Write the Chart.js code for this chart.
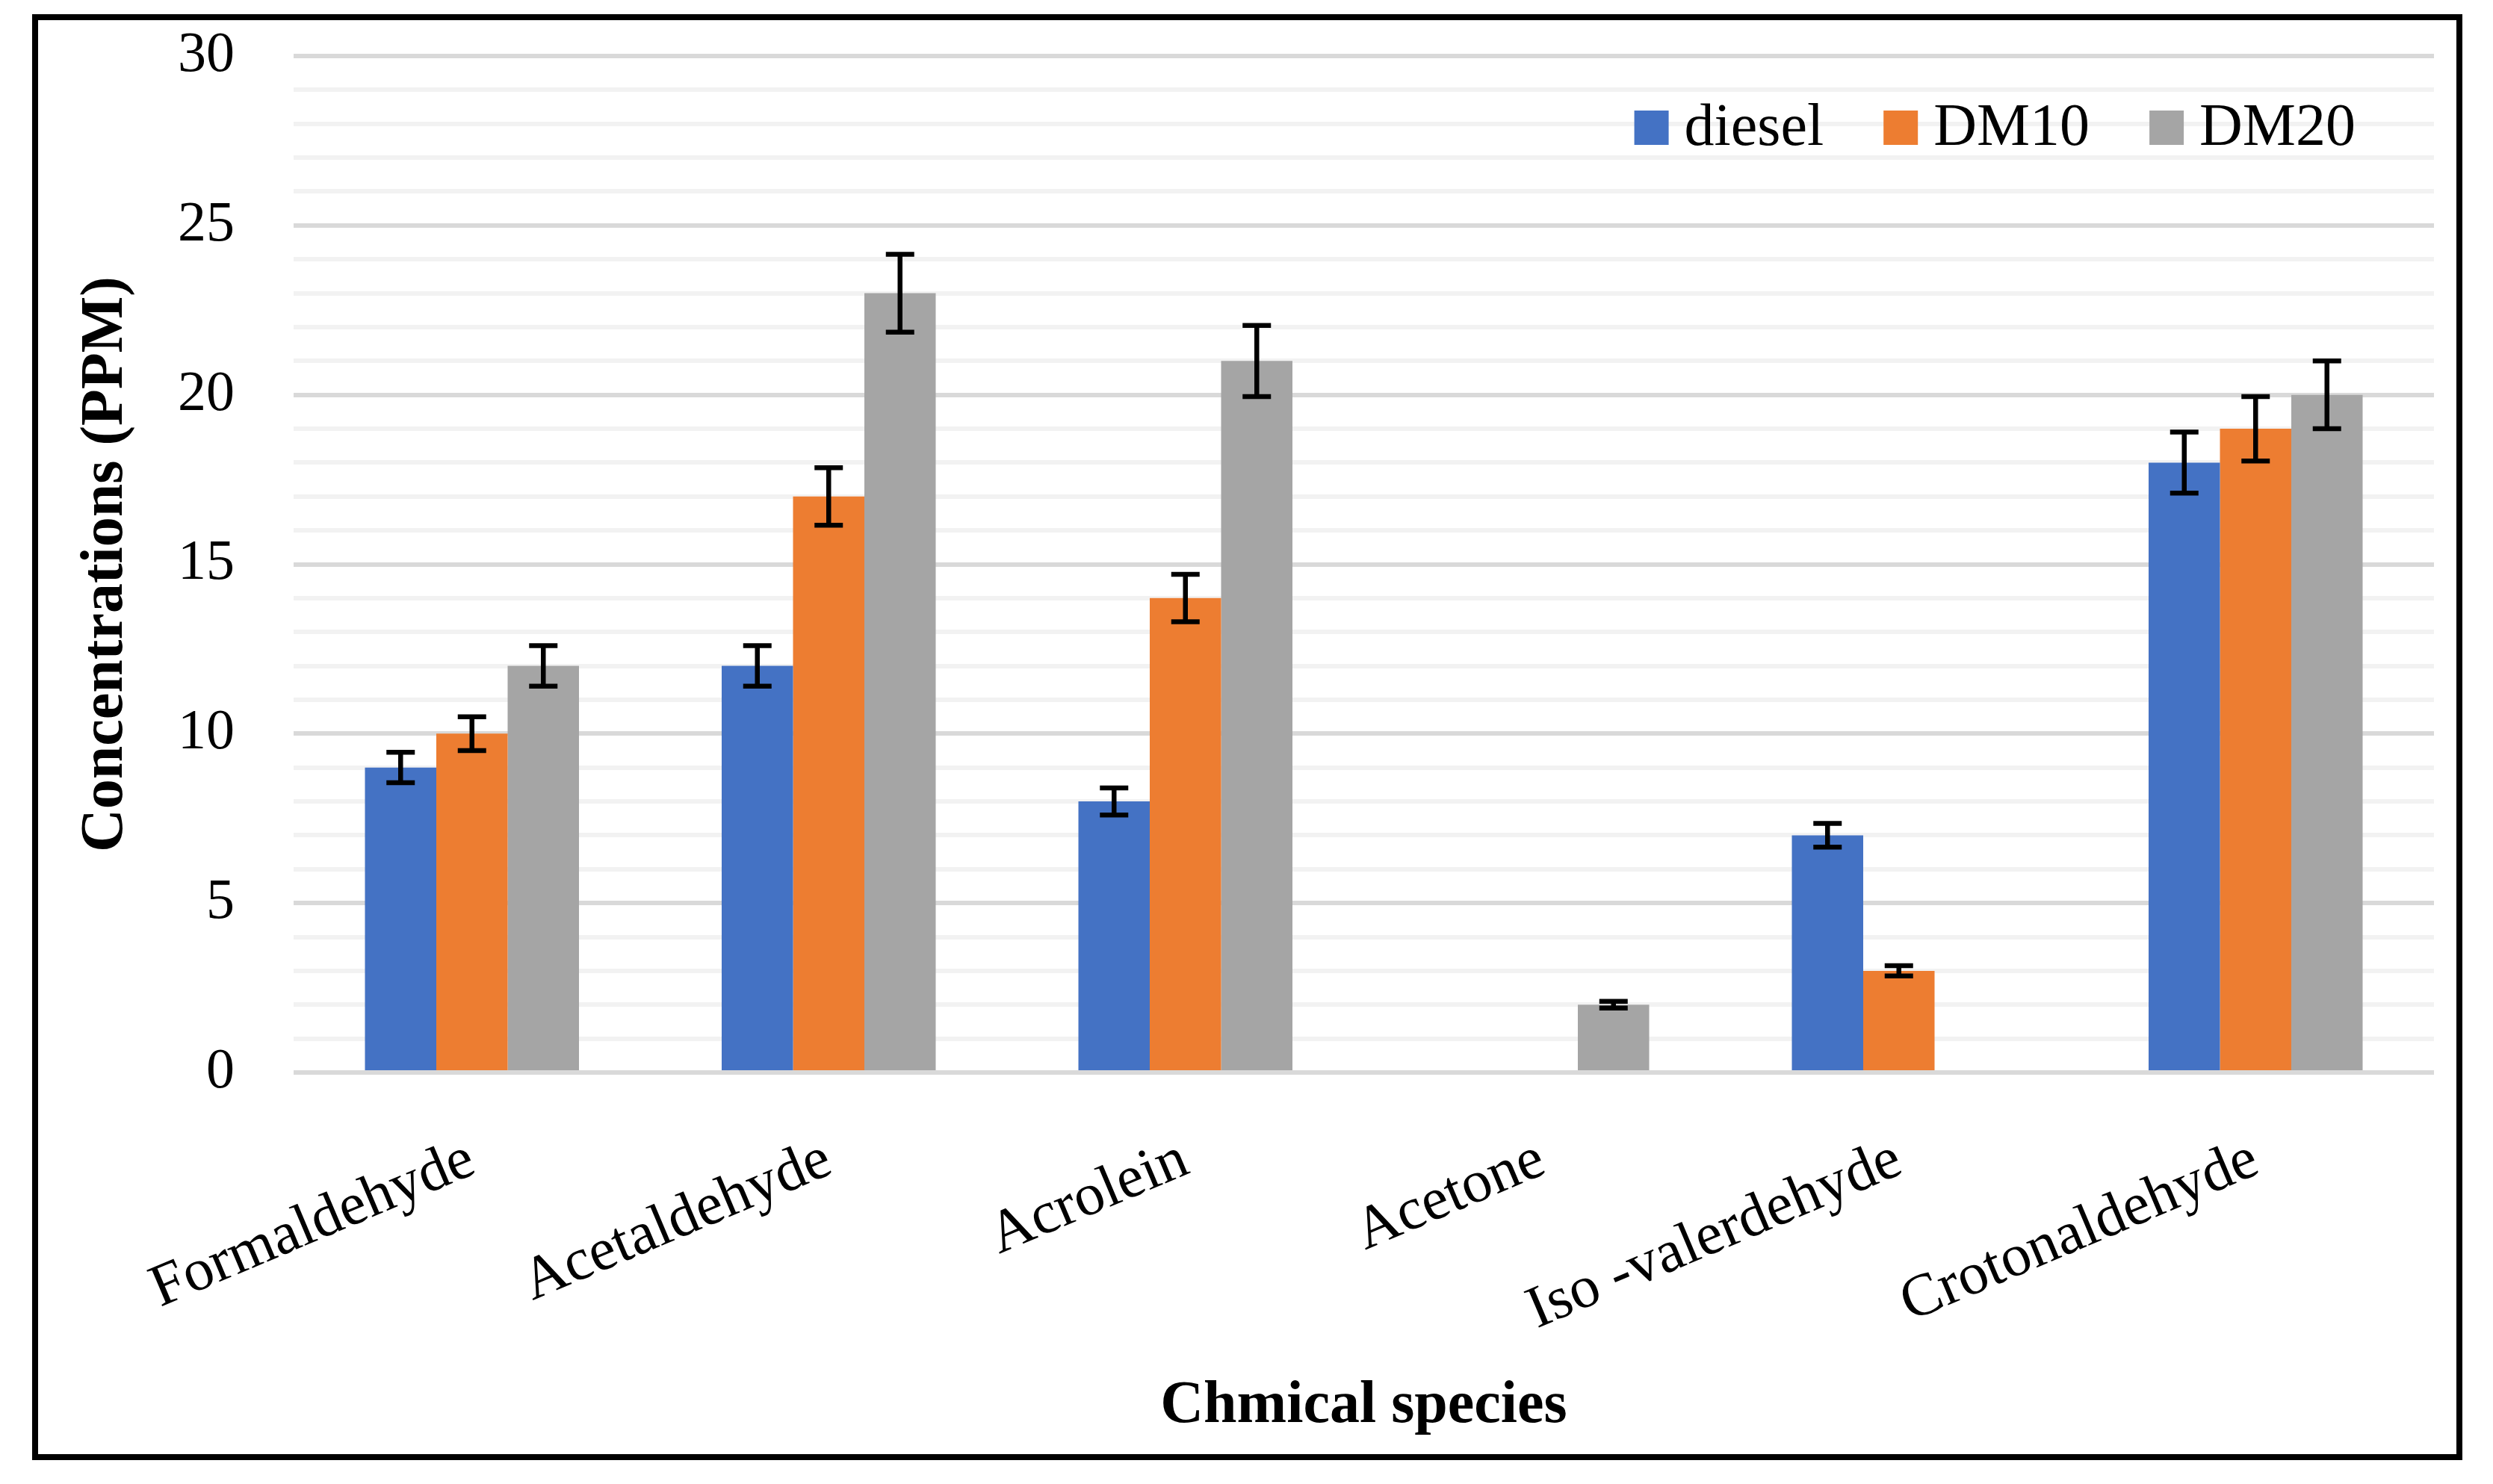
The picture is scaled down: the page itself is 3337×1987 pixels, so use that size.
<!DOCTYPE html>
<html>
<head>
<meta charset="utf-8">
<title>Concentrations by chemical species</title>
<script src="https://cdn.jsdelivr.net/npm/chart.js@4.4.1/dist/chart.umd.min.js"></script>
<style>
    html, body { margin: 0; padding: 0; background: #fff; }
    #chart { display: block; }
</style>
</head>
<body>
<canvas id="chart" width="3337" height="1987"></canvas>
<script>
/* global Chart */

// =========================================================
// Data
// =========================================================
var CATEGORIES = ['Formaldehyde', 'Acetaldehyde', 'Acrolein', 'Acetone', 'Iso -valerdehyde', 'Crotonaldehyde'];
var SERIES     = ['diesel', 'DM10', 'DM20'];

var DIESEL = [9, 12, 8, 0, 7, 18];
var DM10   = [10, 17, 14, 0, 3, 19];
var DM20   = [12, 23, 21, 2, 0, 20];

// error bar half-heights
var ERR_DIESEL = [0.45, 0.6, 0.4, 0, 0.35, 0.9];
var ERR_DM10   = [0.5, 0.85, 0.7, 0, 0.15, 0.95];
var ERR_DM20   = [0.6, 1.15, 1.05, 0.1, 0, 1.0];

var Y_MIN = 0;
var Y_MAX = 30;
var Y_MINOR_STEP = 1;
var Y_LABEL_STEP = 5;

(function () {
    'use strict';

    var FONT   = "'Liberation Serif', 'DejaVu Serif', serif";
    var COLORS = ['#4472C4', '#ED7D31', '#A5A5A5'];

    // =========================================================
    // Plugins — frame, error bars, legend
    // =========================================================
    var framePlugin = {
        id: 'frame',
        beforeDraw: function (chart) {
            var ctx = chart.ctx;
            ctx.save();
            ctx.fillStyle = '#fff';
            ctx.fillRect(0, 0, chart.width, chart.height);
            ctx.restore();
        },
        afterDraw: function (chart) {
            var ctx = chart.ctx;
            ctx.save();
            ctx.strokeStyle = '#000';
            ctx.lineWidth = 8;
            ctx.strokeRect(47, 23, 3245, 1928);
            ctx.restore();
        }
    };

    var errorBarPlugin = {
        id: 'errorBars',
        afterDatasetsDraw: function (chart) {
            var ctx = chart.ctx;
            var y = chart.scales.y;
            ctx.save();
            ctx.strokeStyle = '#000';
            ctx.lineWidth = 6.5;
            ctx.lineCap = 'butt';
            chart.data.datasets.forEach(function (ds, i) {
                var meta = chart.getDatasetMeta(i);
                meta.data.forEach(function (bar, j) {
                    var e = ds.errors[j];
                    if (!e) return;
                    var v = ds.data[j];
                    var top = y.getPixelForValue(v + e);
                    var bot = y.getPixelForValue(v - e);
                    var cap = 19;
                    ctx.beginPath();
                    ctx.moveTo(bar.x, top);
                    ctx.lineTo(bar.x, bot);
                    ctx.moveTo(bar.x - cap, top);
                    ctx.lineTo(bar.x + cap, top);
                    ctx.moveTo(bar.x - cap, bot);
                    ctx.lineTo(bar.x + cap, bot);
                    ctx.stroke();
                });
            });
            ctx.restore();
        }
    };

    // legend sits inside the plot, top right
    var legendPlugin = {
        id: 'insideLegend',
        afterDraw: function (chart) {
            var ctx = chart.ctx;
            var area = chart.chartArea;
            var box = 46, gapText = 21, gapItem = 80;
            ctx.save();
            ctx.font = '80px ' + FONT;
            ctx.textBaseline = 'alphabetic';
            ctx.textAlign = 'left';

            var items = chart.data.datasets.map(function (ds) {
                return { label: ds.label, color: ds.backgroundColor, w: ctx.measureText(ds.label).width };
            });
            var total = 0;
            items.forEach(function (it, k) {
                total += box + gapText + it.w + (k < items.length - 1 ? gapItem : 0);
            });

            var x = area.right - 105 - total;
            var base = 194;
            items.forEach(function (it) {
                ctx.fillStyle = it.color;
                ctx.fillRect(x, base - box, box, box);
                ctx.fillStyle = '#000';
                ctx.fillText(it.label, x + box + gapText, base);
                x += box + gapText + it.w + gapItem;
            });
            ctx.restore();
        }
    };

    // =========================================================
    // Chart
    // =========================================================
    function buildDatasets() {
        var values = [DIESEL, DM10, DM20];
        var errs   = [ERR_DIESEL, ERR_DM10, ERR_DM20];
        return SERIES.map(function (name, i) {
            return {
                label:           name,
                data:            values[i],
                errors:          errs[i],
                backgroundColor: COLORS[i],
                borderWidth:     0,
                categoryPercentage: 0.6,
                barPercentage:   1.0
            };
        });
    }

    new Chart(document.getElementById('chart'), {
        type: 'bar',
        data: {
            labels:   CATEGORIES,
            datasets: buildDatasets()
        },
        options: {
            responsive: false,
            animation: false,
            devicePixelRatio: 1,
            layout: {
                padding: { left: 50, right: 79, top: 75, bottom: 40 }
            },
            plugins: {
                legend:  { display: false },
                tooltip: { enabled: false }
            },
            scales: {
                x: {
                    grid:   { display: false },
                    border: { display: false },
                    ticks: {
                        color: '#000',
                        font: { family: FONT, size: 80 },
                        minRotation: 23,
                        maxRotation: 23,
                        autoSkip: false,
                        padding: 62
                    },
                    title: {
                        display: true,
                        text: 'Chmical species',
                        color: '#000',
                        font: { family: FONT, size: 80, weight: 'bold' },
                        padding: { top: 0, bottom: 16 }
                    },
                    afterFit: function (s) { s.height = 511; }
                },
                y: {
                    min: Y_MIN,
                    max: Y_MAX,
                    border: { display: false },
                    grid: {
                        // invisible tick marks give the label gap without
                        // inflating the scale's top padding
                        drawTicks: true,
                        tickLength: 69,
                        tickColor: 'rgba(0,0,0,0)',
                        lineWidth: 6,
                        color: function (c) {
                            return c.tick && c.tick.value % Y_LABEL_STEP === 0 ? '#D9D9D9' : '#F2F2F2';
                        }
                    },
                    ticks: {
                        stepSize: Y_MINOR_STEP,
                        autoSkip: false,
                        color: '#000',
                        font: { family: FONT, size: 76 },
                        padding: 10,
                        callback: function (v) {
                            return v % Y_LABEL_STEP === 0 ? String(v) : '';
                        }
                    },
                    title: {
                        display: true,
                        text: 'Concentrations (PPM)',
                        color: '#000',
                        font: { family: FONT, size: 80, weight: 'bold' },
                        padding: { top: 44, bottom: 0 }
                    },
                    afterFit: function (s) { s.width = 343; }
                }
            }
        },
        plugins: [framePlugin, errorBarPlugin, legendPlugin]
    });
}());
</script>
</body>
</html>
